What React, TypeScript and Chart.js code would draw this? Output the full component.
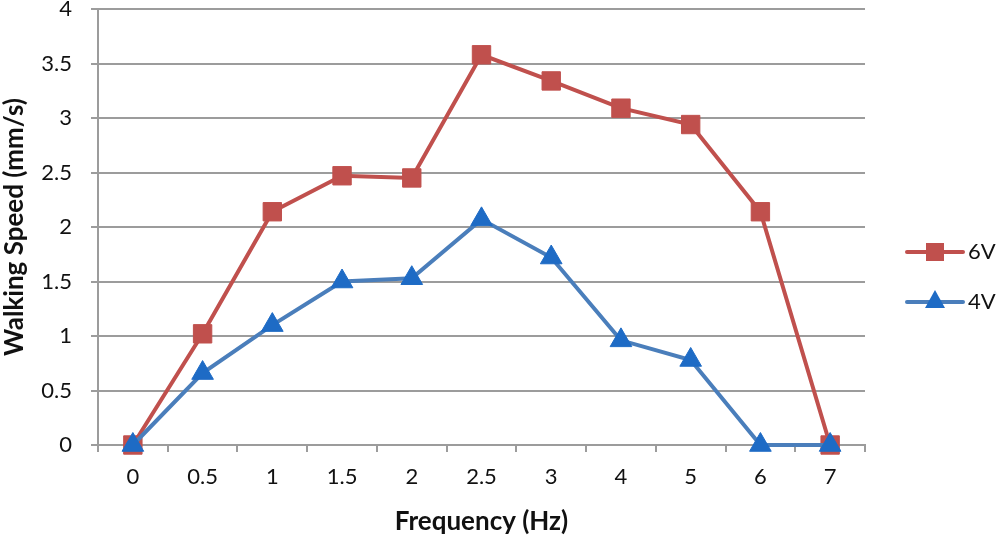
import React, { useEffect, useRef } from "react";
import { Chart, registerables } from "chart.js";

Chart.register(...registerables);

const categories = ["0", "0.5", "1", "1.5", "2", "2.5", "3", "4", "5", "6", "7"];
const series6V = [0, 1.02, 2.14, 2.47, 2.45, 3.58, 3.34, 3.09, 2.94, 2.14, 0];
const series4V = [0, 0.66, 1.1, 1.5, 1.53, 2.07, 1.72, 0.96, 0.78, 0, 0];
const seriesNames = ["6V", "4V"];

const RED = "#C0504D";
const RED_MARK = "#C0504D";
const BLUE = "#4A7EBB";
const BLUE_MARK = "#1E6BC5";
const GRID = "#9c9c9c";
const TEXT = "#111";
const FONT = "Lato, 'Open Sans', sans-serif";
const SHIFT = 5;

const legendPlugin = {
  id: "customLegend",
  afterDraw(chart: any) {
    const ctx = chart.ctx;
    const items = [
      { label: seriesNames[0], line: RED, mark: RED_MARK, style: "rect", y: 252 + SHIFT },
      { label: seriesNames[1], line: BLUE, mark: BLUE_MARK, style: "triangle", y: 302 + SHIFT },
    ];
    const x0 = 907;
    const x1 = 963;
    ctx.save();
    for (const it of items) {
      ctx.strokeStyle = it.line;
      ctx.lineWidth = 4;
      ctx.lineCap = "round";
      ctx.beginPath();
      ctx.moveTo(x0, it.y);
      ctx.lineTo(x1, it.y);
      ctx.stroke();
      ctx.fillStyle = it.mark;
      const cx = (x0 + x1) / 2;
      if (it.style === "rect") {
        ctx.fillRect(cx - 9, it.y - 9, 18, 18);
      } else {
        ctx.beginPath();
        ctx.moveTo(cx, it.y - 12);
        ctx.lineTo(cx + 10, it.y + 6);
        ctx.lineTo(cx - 10, it.y + 6);
        ctx.closePath();
        ctx.fill();
      }
      ctx.fillStyle = TEXT;
      ctx.font = "22px " + FONT;
      ctx.textBaseline = "middle";
      ctx.textAlign = "left";
      ctx.fillText(it.label, 968, it.y);
    }
    ctx.restore();
  },
};

export default function App() {
  const ref = useRef<HTMLCanvasElement | null>(null);

  useEffect(() => {
    document.body.style.margin = "0";
    const canvas = ref.current;
    if (!canvas) return;
    const chart = new Chart(canvas, {
      type: "line",
      data: {
        labels: categories,
        datasets: [
          {
            label: seriesNames[0],
            data: series6V,
            borderColor: RED,
            backgroundColor: RED_MARK,
            pointBackgroundColor: RED_MARK,
            pointBorderColor: RED_MARK,
            borderWidth: 4,
            pointStyle: "rect",
            pointRadius: 13,
            pointBorderWidth: 1,
            tension: 0,
            clip: false as any,
            order: 1,
          },
          {
            label: seriesNames[1],
            data: series4V,
            borderColor: BLUE,
            backgroundColor: BLUE_MARK,
            pointBackgroundColor: BLUE_MARK,
            pointBorderColor: BLUE_MARK,
            borderWidth: 4,
            pointStyle: "triangle",
            pointRadius: 12.5,
            pointBorderWidth: 1,
            tension: 0,
            clip: false as any,
            order: 0,
          },
        ],
      },
      options: {
        animation: false,
        responsive: false,
        maintainAspectRatio: false,
        layout: { padding: { top: 9, right: 135, left: 0, bottom: 0 } },
        plugins: {
          legend: { display: false },
          tooltip: { enabled: false },
        },
        scales: {
          x: {
            type: "category",
            offset: true,
            grid: {
              offset: true,
              drawOnChartArea: false,
              drawTicks: true,
              tickLength: 7,
              color: GRID,
              lineWidth: 2,
            },
            border: { color: GRID, width: 2 },
            ticks: {
              color: TEXT,
              font: { family: FONT, size: 22 },
              padding: 12,
              maxRotation: 0,
              autoSkip: false,
            },
            title: {
              display: true,
              text: "Frequency (Hz)",
              color: TEXT,
              font: { family: FONT, size: 26, weight: "bold", lineHeight: 1 },
              padding: { top: 3, bottom: 3 },
            },
            afterFit: (scale: any) => {
              scale.height = 93;
              scale.paddingLeft = 0;
              scale.paddingRight = 0;
            },
          },
          y: {
            min: 0,
            max: 4,
            ticks: {
              stepSize: 0.5,
              color: TEXT,
              font: { family: FONT, size: 22, lineHeight: 0.8 },
              padding: 19,
              callback: (v: any) => String(Number(v)),
            },
            grid: {
              color: GRID,
              lineWidth: 2,
              tickLength: 7,
            },
            border: { color: GRID, width: 2 },
            title: {
              display: true,
              text: "Walking Speed (mm/s)",
              color: TEXT,
              font: { family: FONT, size: 26, weight: "bold", lineHeight: 1 },
              padding: { top: 2, bottom: 2 },
            },
            afterFit: (scale: any) => {
              scale.width = 98;
              scale.paddingTop = 0;
              scale.paddingBottom = 0;
            },
          },
        },
      },
      plugins: [legendPlugin],
    });
    return () => chart.destroy();
  }, []);

  return (
    <div style={{ width: 1000, height: 538, background: "#fff", overflow: "hidden" }}>
      <canvas
        ref={ref}
        width={1000}
        height={538 + SHIFT}
        style={{ display: "block", marginTop: -SHIFT }}
      />
    </div>
  );
}
